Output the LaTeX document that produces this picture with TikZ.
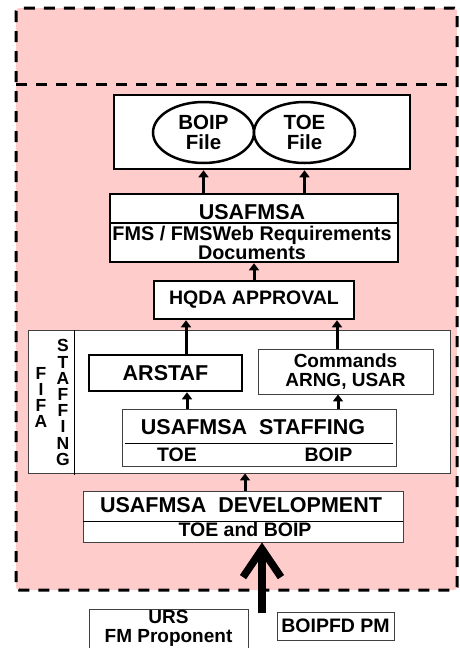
\documentclass[tikz,border=0pt]{standalone}
\usepackage{fontspec}
\setmainfont{Liberation Sans}
\usetikzlibrary{shapes,arrows.meta,positioning,calc,shapes.geometric}
\definecolor{zonepink}{RGB}{255,204,204}

\begin{document}
\begin{tikzpicture}[x=1pt, y=-1pt,
    zone/.style={draw=black, line width=3pt, dash pattern=on 11pt off 9pt, fill=zonepink},
    heavybox/.style={rectangle, draw=black, line width=2.5pt, fill=white, inner sep=0pt},
    lightbox/.style={rectangle, draw=black!75, line width=0.9pt, fill=white, inner sep=0pt},
    filebubble/.style={ellipse, draw=black, line width=2.5pt, fill=white, inner sep=0pt, minimum width=101pt, minimum height=61pt, align=center, font=\fontsize{20.5}{20}\selectfont\bfseries},
    txtlarge/.style={font=\fontsize{21.5}{17}\selectfont\bfseries, align=center, inner sep=0pt},
    txtmid/.style={font=\fontsize{19.5}{17}\selectfont\bfseries, align=center, inner sep=0pt},
    txtpair/.style={font=\fontsize{19}{18.5}\selectfont\bfseries, align=center, inner sep=0pt},
    txtdocs/.style={font=\fontsize{19.8}{17}\selectfont\bfseries, align=center, inner sep=0pt},
    txtvert/.style={font=\fontsize{17.5}{16.2}\selectfont\bfseries, align=center, inner sep=0pt},
    flow/.style={-{Triangle[length=7pt,width=10pt]}, line width=3pt},
    bigflow/.style={-{Straight Barb[length=28pt,width=38pt]}, line width=7.5pt}
]
\useasboundingbox (0,0) rectangle (459,648);

\draw[zone, rounded corners=3pt] (16,8) rectangle (457,590);
\draw[zone, fill=none] (16,84) -- (457,84);

\node[heavybox, minimum width=296pt, minimum height=74pt] (files) at (262,132) {};
\node[filebubble] (boipfile) at (203.5,132.5) {BOIP\\File};
\node[filebubble] (toefile) at (304.5,132.5) {TOE\\File};

\node[heavybox, minimum width=288pt, minimum height=68pt] (fms) at (254,228) {};
\node[txtlarge] (fmstitle) at (252,212) {USAFMSA};
\node[txtdocs] (fmsdocs) at (252,243) {FMS / FMSWeb Requirements\\Documents};
\draw[line width=1.5pt] (fms.west |- 0,223) -- (fms.east |- 0,223);

\node[heavybox, minimum width=200pt, minimum height=38pt, txtmid] (hqda) at (254,300) {HQDA APPROVAL};

\node[lightbox, minimum width=422pt, minimum height=143pt] (staffing) at (239,401.5) {};
\draw[line width=0.9pt] (staffing.north -| 74,0) -- (74,475);
\node[txtvert] (fifa) at (41,397.5) {F\\I\\F\\A};
\node[txtvert] (staffingword) at (63,402.5) {S\\T\\A\\F\\F\\I\\N\\G};

\node[heavybox, minimum width=153pt, minimum height=36pt, txtlarge] (arstaf) at (165.5,373) {ARSTAF};
\node[lightbox, minimum width=175pt, minimum height=45pt, txtpair] (commands) at (345.5,371.5) {Commands\\ARNG, USAR};

\node[lightbox, minimum width=274pt, minimum height=57pt] (staff) at (259,437.5) {};
\node[txtlarge] (stafftitle) at (253,427.5) {USAFMSA~~STAFFING};
\draw[line width=0.9pt] ([xshift=3pt]staff.west |- 0,443) -- ([xshift=-3pt]staff.east |- 0,443);
\node[txtmid] (stafftoe) at (177,455) {TOE};
\node[txtmid] (staffboip) at (328.5,455) {BOIP};

\node[lightbox, minimum width=320pt, minimum height=51pt] (dev) at (243,516.5) {};
\node[txtlarge] (devtitle) at (241,505.5) {USAFMSA~~DEVELOPMENT};
\draw[line width=0.9pt] (dev.west |- 0,521) -- (dev.east |- 0,521);
\node[txtmid] (devsub) at (245,530) {TOE and BOIP};

\node[lightbox, minimum width=159pt, minimum height=39pt, txtpair] (urs) at (168.5,628.5) {URS\\FM Proponent};
\node[lightbox, minimum width=117pt, minimum height=28pt, txtmid] (boipfd) at (335.5,626) {BOIPFD PM};
\coordinate (push) at (262,613);

\draw[flow] (fms.north -| boipfile) -- (files.south -| boipfile);
\draw[flow] (fms.north -| toefile) -- (files.south -| toefile);
\draw[flow] (hqda) -- (fms);
\draw[flow] (arstaf.north -| 186,0) -- (hqda.south -| 186,0);
\draw[flow] (commands.north -| 337,0) -- (hqda.south -| 337,0);
\draw[flow] (staff.north -| 187,0) -- (arstaf.south -| 187,0);
\draw[flow] (staff.north -| 338,0) -- (commands.south -| 338,0);
\draw[flow] (dev.north -| 245,0) -- (staffing.south -| 245,0);
\draw[bigflow] (push) -- (dev.south -| push);

\end{tikzpicture}
\end{document}
